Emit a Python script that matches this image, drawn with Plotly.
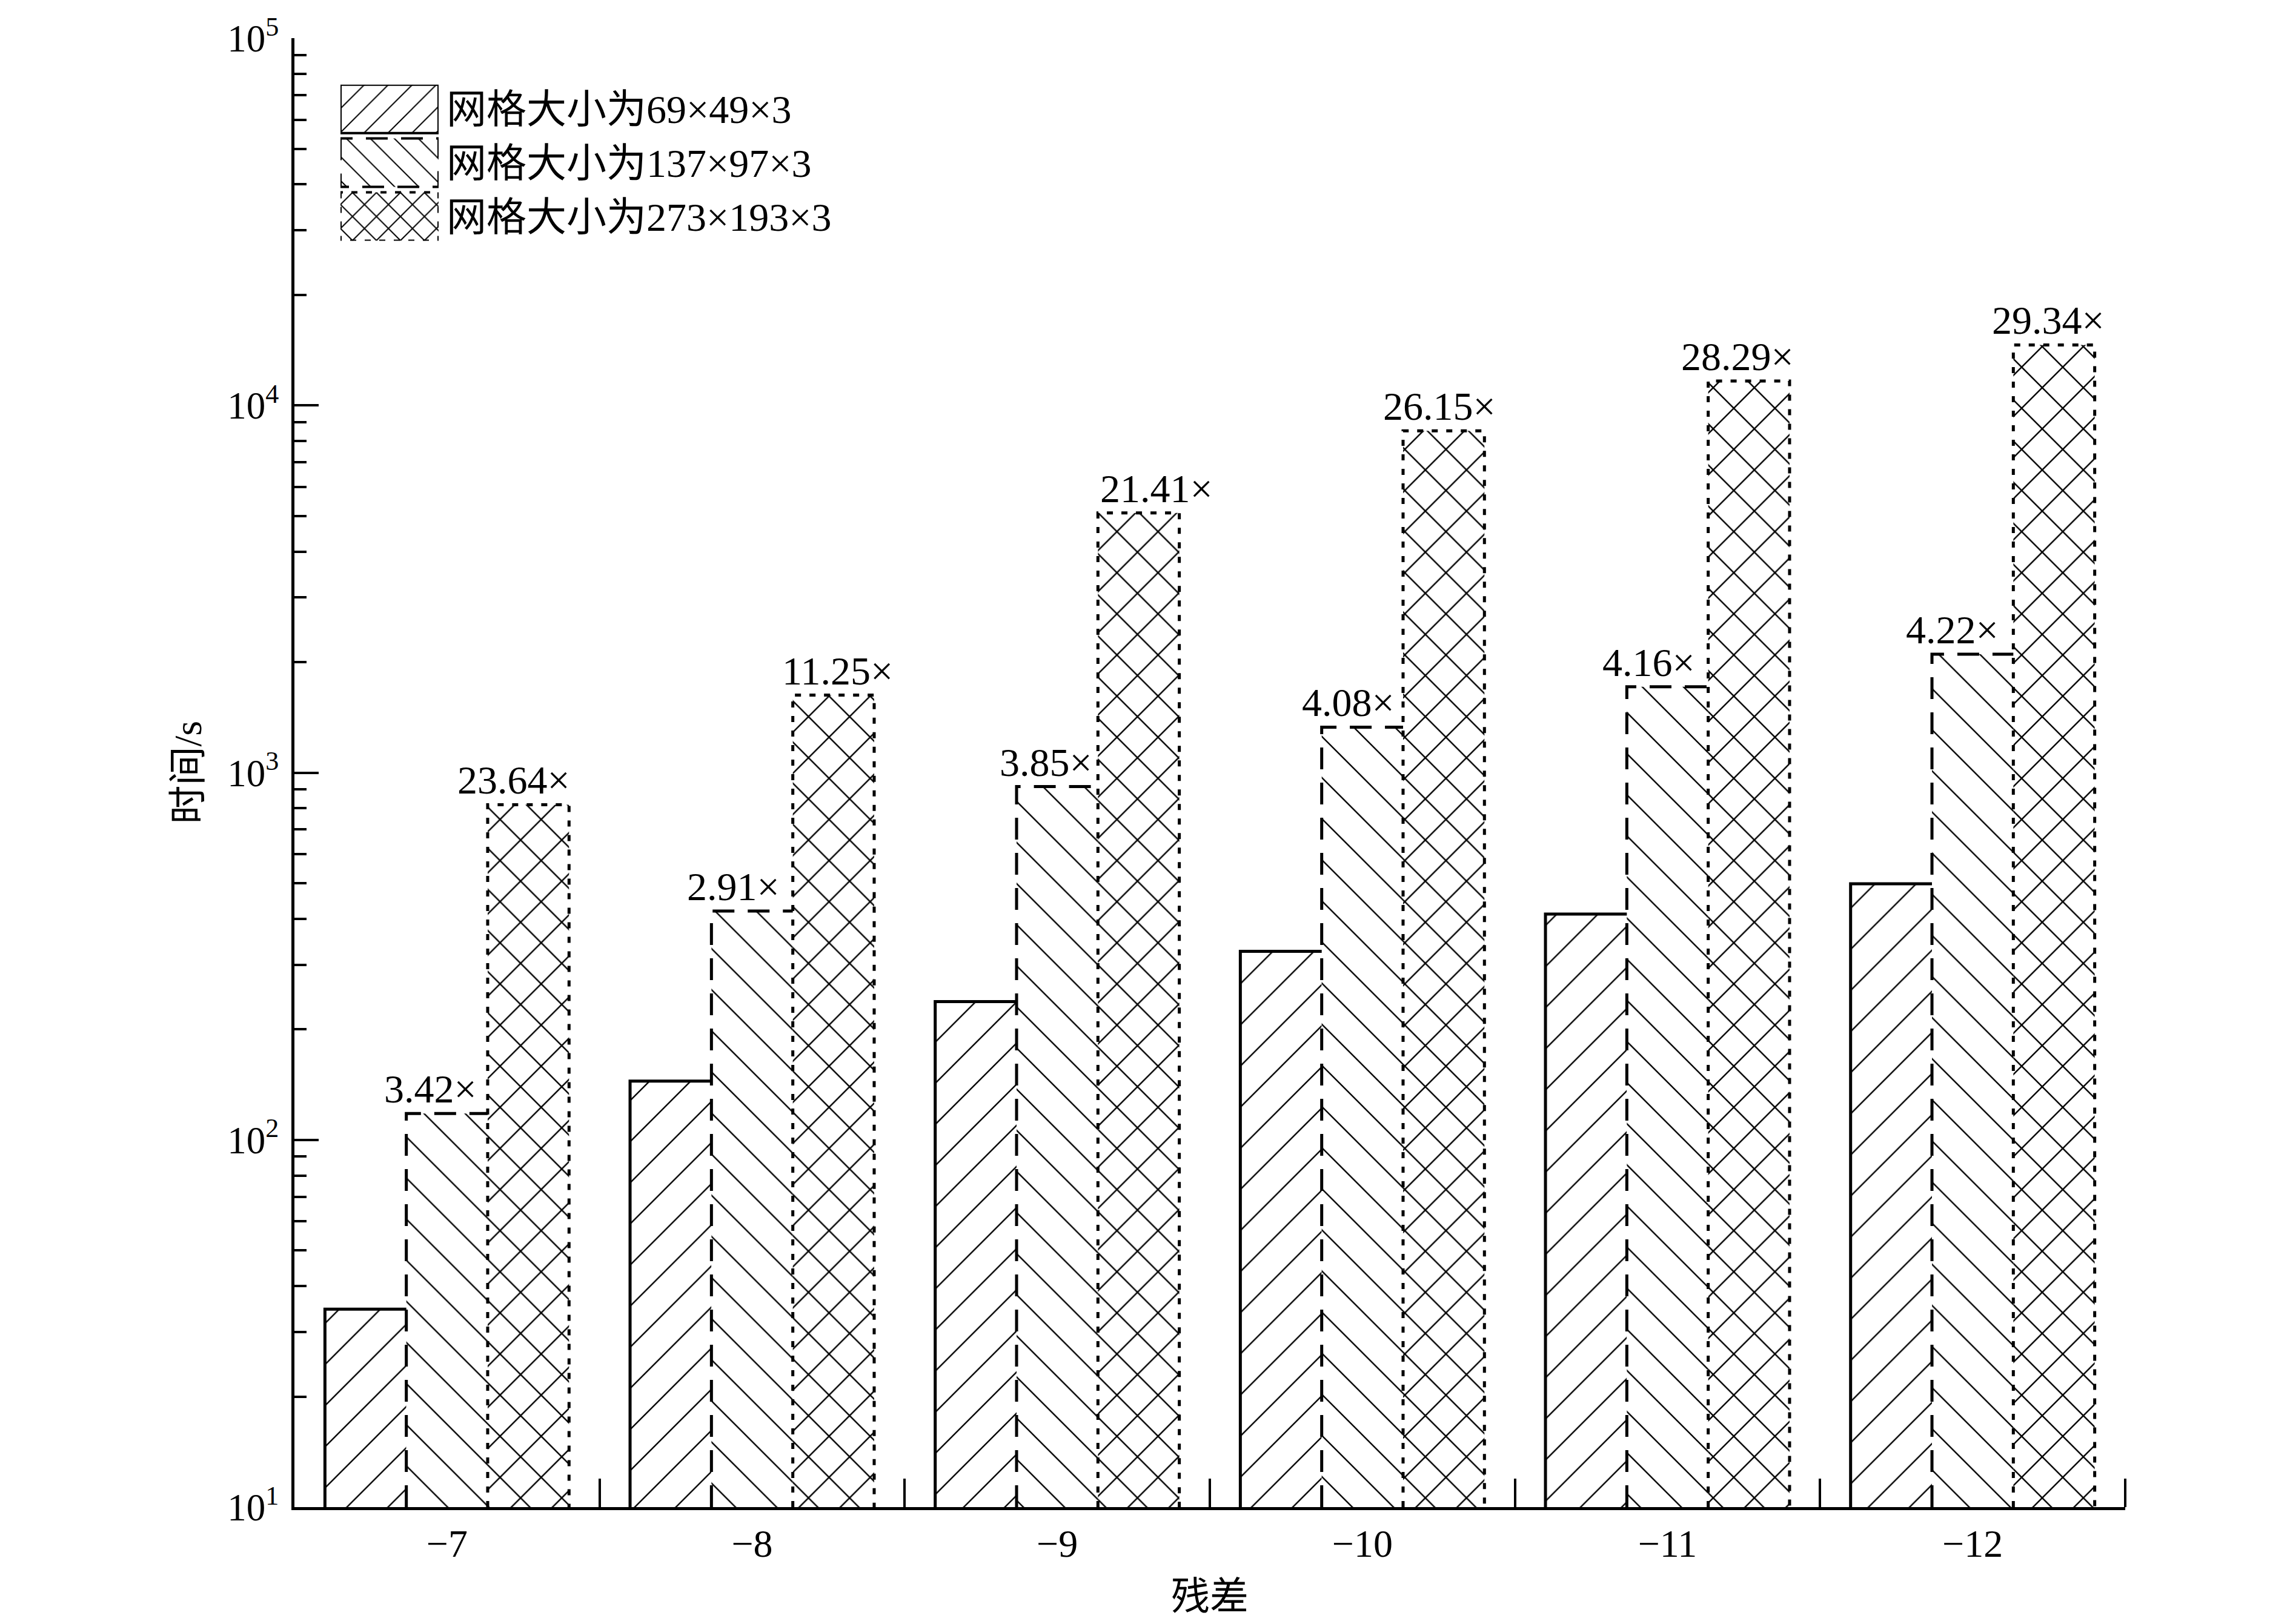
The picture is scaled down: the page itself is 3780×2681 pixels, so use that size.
import math
import plotly.graph_objects as go

# data
residuals = ["−7", "−8", "−9", "−10", "−11", "−12"]
series_names = ["网格大小为69×49×3", "网格大小为137×97×3", "网格大小为273×193×3"]
time_coarse = [34.6, 144.5, 238, 326, 412, 498]
time_medium = [118, 420, 916, 1330, 1714, 2102]
time_fine = [818, 1626, 5096, 8525, 11655, 14611]
ratio_medium = [3.42, 2.91, 3.85, 4.08, 4.16, 4.22]
ratio_fine = [23.64, 11.25, 21.41, 26.15, 28.29, 29.34]

# horizontal nudges (px) of the ratio labels, as placed in the original
nudge_medium = [-27, -31, -19, -23, -31, -34]
nudge_fine = [-24, 7, 30, -7, -19, -9]

series = [time_coarse, time_medium, time_fine]
ratios = [None, ratio_medium, ratio_fine]
nudges = [None, nudge_medium, nudge_fine]
shapes = ["/", "\\", "x"]
solid = [0.05, 0.05, 0.1]
dashes = ["solid", "36px,22px", "10px,14px"]

FONT = "Liberation Serif, Times New Roman, Noto Sans CJK SC"
# page body has an 8px margin, keep the figure inside the window
W, H = 3764, 2665
L, T = 478, 44
R = W - (3508 - 8)
B = H - (2488 - 8)

bargap = 0.2
n = len(series)
bw = (1 - bargap) / n
xs = list(range(len(residuals)))
ymin = 10

fig = go.Figure()

for k, vals in enumerate(series):
    fig.add_trace(go.Bar(
        x=xs, y=vals, name=series_names[k],
        marker=dict(color="white", line=dict(width=0),
                    pattern=dict(shape=shapes[k], fgcolor="black", bgcolor="white",
                                 size=48, solidity=solid[k], fillmode="replace")),
        showlegend=False,
    ))

# bar outlines (left + top, last series also right), so dashed/dotted edges can be drawn
for k, vals in enumerate(series):
    ox, oy = [], []
    for i, v in zip(xs, vals):
        left = i - (1 - bargap) / 2 + k * bw
        right = left + bw
        ox += [left, left, right]
        oy += [ymin, v, v]
        if k == n - 1:
            ox += [right]
            oy += [ymin]
        ox.append(None)
        oy.append(None)
    fig.add_trace(go.Scatter(x=ox, y=oy, mode="lines", cliponaxis=False,
                             line=dict(color="black", width=5, dash=dashes[k]),
                             showlegend=False, hoverinfo="skip"))

# ratio labels above medium and fine bars
for k in (1, 2):
    for i, v, r, dx in zip(xs, series[k], ratios[k], nudges[k]):
        cx = i - (1 - bargap) / 2 + (k + 0.5) * bw
        fig.add_annotation(x=cx, y=math.log10(v), text=f"{r:.2f}×", showarrow=False,
                           yanchor="bottom", xshift=dx, yshift=2,
                           font=dict(family=FONT, size=66, color="black"))

# hand-made legend in a small inset axis
rows = list(range(n))
for k in rows:
    fig.add_trace(go.Bar(
        x=[1], y=[k], orientation="h", width=0.9, xaxis="x2", yaxis="y2",
        marker=dict(color="white", line=dict(width=0),
                    pattern=dict(shape=shapes[k], fgcolor="black", bgcolor="white",
                                 size=28, solidity=solid[k] * 1.4, fillmode="replace")),
        showlegend=False, hoverinfo="skip",
    ))
    fig.add_trace(go.Scatter(
        x=[0, 0, 1, 1, 0], y=[k - 0.45, k + 0.45, k + 0.45, k - 0.45, k - 0.45],
        mode="lines", xaxis="x2", yaxis="y2", cliponaxis=False,
        line=dict(color="black", width=4, dash=dashes[k]),
        showlegend=False, hoverinfo="skip",
    ))

pw, ph = W - L - R, H - T - B
ox0, oy0 = L + 8, T + 8
leg_x = [(562 - ox0) / pw, (724 - ox0) / pw]
leg_y = [1 - (388 - oy0) / ph, 1 - (129 - oy0) / ph]

fig.update_layout(
    width=W, height=H,
    margin=dict(l=L, r=R, t=T, b=B),
    paper_bgcolor="white", plot_bgcolor="white",
    barmode="group", bargap=bargap, bargroupgap=0,
    showlegend=False,
    font=dict(family=FONT, size=64, color="black"),
    xaxis=dict(
        range=[-0.5, len(residuals) - 0.5], showgrid=False, zeroline=False,
        showline=True, linecolor="black", linewidth=5,
        tickmode="array", tickvals=xs, ticktext=residuals, ticks="",
        ticklabelstandoff=0,
        tickfont=dict(family=FONT, size=64),
        minor=dict(tickmode="array", tickvals=[i + 0.5 for i in xs], ticks="inside",
                   ticklen=47, tickwidth=4, tickcolor="black", showgrid=False),
    ),
    yaxis=dict(
        type="log", range=[1, 5], showgrid=False, zeroline=False,
        showline=True, linecolor="black", linewidth=5,
        tickmode="array", tickvals=[10, 100, 1000, 10000, 100000],
        ticktext=["10<sup>1</sup>", "10<sup>2</sup>", "10<sup>3</sup>", "10<sup>4</sup>", "10<sup>5</sup>"],
        ticks="inside", ticklen=40, tickwidth=4, tickcolor="black",
        ticklabelstandoff=8, ticklabeloverflow="allow",
        tickfont=dict(family=FONT, size=63),
        minor=dict(dtick="D1", ticks="inside", ticklen=20, tickwidth=4, tickcolor="black",
                   showgrid=False),
    ),
    xaxis2=dict(domain=leg_x, range=[0, 1], anchor="y2", visible=False, fixedrange=True),
    yaxis2=dict(domain=leg_y, range=[n - 0.55, -0.45], anchor="x2", side="right",
                tickmode="array", tickvals=rows, ticktext=series_names, ticks="",
                showline=False, showgrid=False, zeroline=False, ticklabelstandoff=12,
                tickfont=dict(family=FONT, size=66)),
)

fig.add_annotation(text="残差", xref="paper", yref="paper", x=0.5, y=0, yanchor="middle",
                   yshift=-147, showarrow=False, font=dict(family=FONT, size=64))
fig.add_annotation(text="时间/s", xref="paper", yref="paper", x=0, y=0.5, xanchor="center",
                   xshift=-176, textangle=-90, showarrow=False, font=dict(family=FONT, size=64))

fig.write_html("out.html")
